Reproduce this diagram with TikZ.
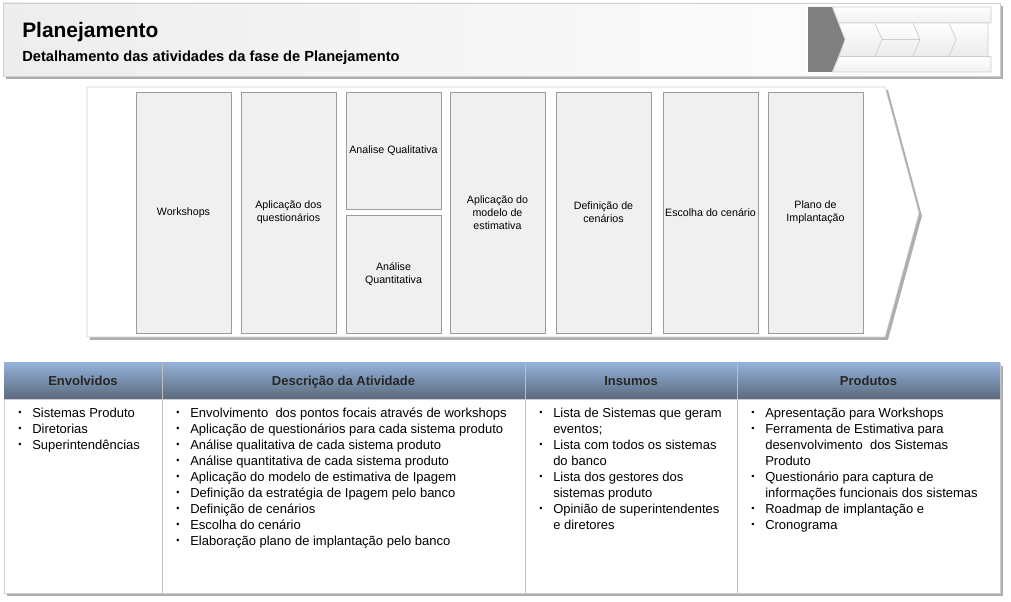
\documentclass[tikz,border=0pt]{standalone}
\usepackage{fontspec}
\setmainfont{Liberation Sans}
\usepackage{array}
\usetikzlibrary{shadows,positioning}

\definecolor{caixa}{HTML}{F0F0F0}
\definecolor{bordacaixa}{HTML}{9C9C9C}
\definecolor{bordaclara}{HTML}{CFCFCF}
\definecolor{azulclaro}{HTML}{93B1D7}
\definecolor{azulescuro}{HTML}{5B6A7E}
\definecolor{cinzaicone}{HTML}{808080}

\newcommand{\mk}{\raisebox{.1em}{\scalebox{.7}{\textbullet}}}
\newcommand{\itens}[1]{\begin{tabular}{@{}p{10.5pt}@{}l@{}}#1\end{tabular}}

\tikzset{
  sombra/.style={drop shadow={shadow xshift=2.2pt,shadow yshift=-2.2pt,opacity=.45,fill=black!70}},
  etapa/.style={draw=bordacaixa,fill=caixa,inner sep=1pt,align=center,
    minimum width=71.25pt,minimum height=180.75pt,
    font=\fontsize{8}{9.75}\selectfont},
  titcol/.style={anchor=base,inner sep=0pt,font=\fontsize{9.75}{12}\selectfont\bfseries,text=black!85},
  lista/.style={anchor=north west,inner sep=0pt,font=\fontsize{9.75}{12}\selectfont},
  icone/.style={draw=black!20,line width=.5pt}
}

\begin{document}
\begin{tikzpicture}[x=0.75pt,y=-0.75pt]
\useasboundingbox (0,0) rectangle (1011,602);

% faixa de titulo
\path[draw=bordaclara,left color=black!7,right color=white,sombra] (3,3) rectangle (1000,76);
\node[anchor=base west,inner sep=0pt,font=\fontsize{15.7}{18}\selectfont\bfseries] (titulo) at (22,37.5) {Planejamento};
\node[anchor=base west,inner sep=0pt,font=\fontsize{11}{13}\selectfont\bfseries] (subtitulo) at (22,62) {Detalhamento das atividades da fase de Planejamento};

% icone das fases
\fill[white] (806,5) rectangle (994,74);
\fill[cinzaicone] (808,7) -- (832,7) -- (845,39.5) -- (832,72) -- (808,72) -- cycle;
\path[icone,top color=white,bottom color=black!6] (832.5,7) -- (991,7) -- (991,23) -- (838.5,23) -- cycle;
\path[icone,top color=white,bottom color=black!6] (839,56.5) -- (991,56.5) -- (991,72) -- (832.5,72) -- cycle;
\path[icone,top color=white,bottom color=black!8] (838.5,23) -- (988,23) -- (988,56.5) -- (839,56.5) -- (845,39.5) -- cycle;
\foreach \xd in {875,913,949}
  \draw[icone] (\xd,23) -- (\xd+7,39.5) -- (\xd,56.5);
\draw[icone] (882,39.5) -- (920,39.5);

% seta do processo
\path[draw=bordaclara,fill=white,sombra] (87,87) -- (885,87) -- (919,213) -- (885,337) -- (87,337) -- cycle;

\node[etapa] (workshops) at (183.5,212.5) {Workshops};
\node[etapa] (questionarios) at (288.5,212.5) {Aplicação dos\\ questionários};
\node[etapa,minimum height=87.75pt] (qualitativa) at (393.5,150.5) {Analise Qualitativa};
\node[etapa,minimum height=88.5pt] (quantitativa) at (393.5,274) {Análise\\ Quantitativa};
\node[etapa] (modelo) at (497.5,212.5) {Aplicação do\\ modelo de\\ estimativa};
\node[etapa] (cenarios) at (603.5,212.5) {Definição de\\ cenários};
\node[etapa] (escolha) at (710.5,212.5) {Escolha do cenário};
\node[etapa] (plano) at (815.5,212.5) {Plano de\\ Implantação};

% tabela
\path[draw=bordaclara,fill=white,sombra] (4,363) rectangle (1000,593);
\shade[top color=azulclaro,bottom color=azulescuro] (4,363) rectangle (1000,399);
\foreach \xc in {162,525,737}
  \draw[black!25] (\xc,363) -- (\xc,593);
\draw[black!20] (4,399) -- (1000,399);

\node[titcol] (hEnvolvidos) at (83,385.7) {Envolvidos};
\node[titcol] (hDescricao) at (343.5,385.7) {Descrição da Atividade};
\node[titcol] (hInsumos) at (631,385.7) {Insumos};
\node[titcol] (hProdutos) at (868.5,385.7) {Produtos};

\node[lista] (lEnvolvidos) at (18,405.6) {\itens{
  \mk & Sistemas Produto\\
  \mk & Diretorias\\
  \mk & Superintendências}};
\node[lista] (lDescricao) at (176,405.6) {\itens{
  \mk & Envolvimento~ dos pontos focais através de workshops\\
  \mk & Aplicação de questionários para cada sistema produto\\
  \mk & Análise qualitativa de cada sistema produto\\
  \mk & Análise quantitativa de cada sistema produto\\
  \mk & Aplicação do modelo de estimativa de Ipagem\\
  \mk & Definição da estratégia de Ipagem pelo banco\\
  \mk & Definição de cenários\\
  \mk & Escolha do cenário\\
  \mk & Elaboração plano de implantação pelo banco}};
\node[lista] (lInsumos) at (539,405.6) {\itens{
  \mk & Lista de Sistemas que geram\\
      & eventos;\\
  \mk & Lista com todos os sistemas\\
      & do banco\\
  \mk & Lista dos gestores dos\\
      & sistemas produto\\
  \mk & Opinião de superintendentes\\
      & e diretores}};
\node[lista] (lProdutos) at (751,405.6) {\itens{
  \mk & Apresentação para Workshops\\
  \mk & Ferramenta de Estimativa para\\
      & desenvolvimento~ dos Sistemas\\
      & Produto\\
  \mk & Questionário para captura de\\
      & informações funcionais dos sistemas\\
  \mk & Roadmap de implantação e\\
  \mk & Cronograma}};
\end{tikzpicture}
\end{document}
